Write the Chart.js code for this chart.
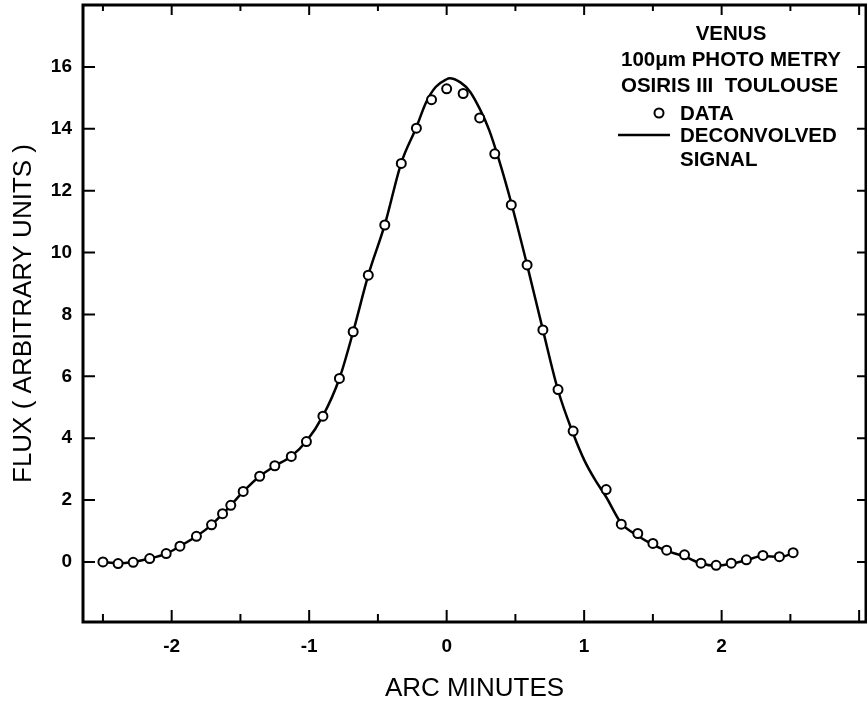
<!DOCTYPE html>
<html>
<head>
<meta charset="utf-8">
<script src="https://cdn.jsdelivr.net/npm/chart.js@4.4.1/dist/chart.umd.min.js"></script>
<style>
  html, body { margin: 0; padding: 0; background: #fff; }
  #wrap { width: 867px; height: 702px; }
</style>
</head>
<body>
<div id="wrap"><canvas id="myChart"></canvas></div>
<script>
// measured points (arc minutes, flux)
const dataX = [-2.50, -2.39, -2.28, -2.16, -2.04, -1.94, -1.82, -1.71, -1.63, -1.57, -1.48, -1.36, -1.25, -1.13, -1.02,
  -0.90, -0.78, -0.68, -0.57, -0.45, -0.33, -0.22, -0.11, 0.00, 0.12, 0.24, 0.35, 0.47, 0.585, 0.70, 0.81, 0.92,
  1.16, 1.27, 1.39, 1.50, 1.60, 1.73, 1.85, 1.96, 2.07, 2.18, 2.30, 2.42, 2.52];
const dataY = [0.00, -0.05, -0.01, 0.11, 0.27, 0.51, 0.83, 1.20, 1.56, 1.83, 2.28, 2.77, 3.11, 3.41, 3.89,
  4.71, 5.93, 7.44, 9.27, 10.89, 12.88, 14.02, 14.94, 15.29, 15.14, 14.35, 13.19, 11.54, 9.60, 7.50, 5.57, 4.23,
  2.34, 1.22, 0.92, 0.60, 0.38, 0.23, -0.04, -0.11, -0.04, 0.07, 0.21, 0.17, 0.30];

// deconvolved signal
const curveX = [-2.50, -2.39, -2.28, -2.16, -2.04, -1.94, -1.82, -1.71, -1.63, -1.57, -1.48, -1.36, -1.25, -1.13, -1.02,
  -0.90, -0.78, -0.68, -0.57, -0.45, -0.33, -0.22, -0.15, -0.08, 0.00, 0.02, 0.10, 0.17, 0.24, 0.31, 0.38, 0.47,
  0.585, 0.70, 0.81, 0.92, 1.00, 1.08, 1.16, 1.27, 1.39, 1.50, 1.60, 1.73, 1.85, 1.96, 2.07, 2.18, 2.30, 2.42, 2.52];
const curveY = [0.00, -0.04, 0.00, 0.11, 0.27, 0.51, 0.83, 1.20, 1.55, 1.83, 2.27, 2.77, 3.10, 3.42, 3.90,
  4.72, 5.93, 7.44, 9.27, 10.90, 12.90, 14.05, 14.85, 15.35, 15.60, 15.63, 15.50, 15.20, 14.65, 13.95, 13.00, 11.60,
  9.60, 7.50, 5.55, 4.15, 3.30, 2.65, 2.10, 1.25, 0.85, 0.56, 0.36, 0.18, -0.05, -0.12, -0.06, 0.06, 0.19, 0.16, 0.28];

const xLabelTicks = [-2, -1, 0, 1, 2];
const xMarkTicks = [-2.5, -2, -1.5, -1, -0.5, 0, 0.5, 1, 1.5, 2, 2.5, 3];
const yTicks = [0, 2, 4, 6, 8, 10, 12, 14, 16];

const legendLines = ['VENUS', '100\u03BCm PHOTO METRY', 'OSIRIS III  TOULOUSE'];

// frame, inward ticks and the key in the corner
const framePlugin = {
  id: 'frame',
  afterDraw(chart) {
    const ctx = chart.ctx;
    const a = chart.chartArea;
    const xs = chart.scales.x, ys = chart.scales.y;
    ctx.save();
    ctx.strokeStyle = '#000';
    ctx.lineWidth = 3;
    ctx.strokeRect(a.left, a.top, a.right - a.left, a.bottom - a.top);

    ctx.lineWidth = 2;
    ctx.beginPath();
    xMarkTicks.forEach(v => {
      const px = xs.getPixelForValue(v);
      const len = Number.isInteger(v) ? 12 : 8;
      ctx.moveTo(px, a.bottom);
      ctx.lineTo(px, a.bottom - len);
      ctx.moveTo(px, a.top);
      ctx.lineTo(px, a.top + len - 2);
    });
    yTicks.forEach(v => {
      const py = ys.getPixelForValue(v);
      ctx.moveTo(a.left, py);
      ctx.lineTo(a.left + 12, py);
      ctx.moveTo(a.right, py);
      ctx.lineTo(a.right - 9, py);
    });
    ctx.stroke();

    // key
    ctx.fillStyle = '#000';
    ctx.font = 'bold 20.5px "Liberation Sans"';
    ctx.textBaseline = 'alphabetic';
    ctx.textAlign = 'center';
    ctx.fillText(legendLines[0], 731, 40);
    ctx.textAlign = 'left';
    ctx.fillText(legendLines[1], 621, 66);
    ctx.fillText(legendLines[2], 621, 92);
    ctx.fillText('DATA', 680, 120);
    ctx.fillText('DECONVOLVED', 680, 142);
    ctx.fillText('SIGNAL', 680, 166);

    ctx.lineWidth = 2;
    ctx.beginPath();
    ctx.arc(659, 113, 4.5, 0, Math.PI * 2);
    ctx.fillStyle = '#fff';
    ctx.fill();
    ctx.stroke();
    ctx.lineWidth = 2.5;
    ctx.beginPath();
    ctx.moveTo(618, 135);
    ctx.lineTo(670, 135);
    ctx.stroke();
    ctx.restore();
  }
};

const ctx = document.getElementById('myChart');

new Chart(ctx, {
  type: 'scatter',
  data: {
    datasets: [{
      label: 'DATA',
      data: dataX.map((x, i) => ({ x: x, y: dataY[i] })),
      showLine: false,
      pointStyle: 'circle',
      pointRadius: 4.5,
      pointBorderWidth: 2,
      pointBackgroundColor: '#fff',
      pointBorderColor: '#000',
      order: 1
    }, {
      label: 'DECONVOLVED SIGNAL',
      type: 'line',
      data: curveX.map((x, i) => ({ x: x, y: curveY[i] })),
      borderColor: '#000',
      borderWidth: 2.5,
      pointRadius: 0,
      cubicInterpolationMode: 'monotone',
      fill: false,
      order: 2
    }]
  },
  options: {
    responsive: true,
    maintainAspectRatio: false,
    animation: false,
    layout: { autoPadding: false, padding: { top: 5, right: 1, left: 0, bottom: 0 } },
    plugins: {
      legend: { display: false },
      tooltip: { enabled: false }
    },
    scales: {
      x: {
        type: 'linear',
        min: -2.645,
        max: 3.05,
        grid: { display: false, drawTicks: false },
        border: { display: false },
        afterBuildTicks: s => { s.ticks = xLabelTicks.map(v => ({ value: v })); },
        afterFit: s => { s.height = 80; s.paddingLeft = 0; s.paddingRight = 0; },
        ticks: {
          padding: 13,
          color: '#000',
          font: { family: 'Liberation Sans', size: 19, weight: 'bold' },
          callback: v => String(v)
        },
        title: {
          display: true,
          text: 'ARC MINUTES',
          color: '#000',
          font: { family: 'Liberation Sans', size: 26, lineHeight: 1 },
          padding: { top: 0, bottom: 0 }
        }
      },
      y: {
        type: 'linear',
        min: -1.94,
        max: 18,
        grid: { display: false, drawTicks: false },
        border: { display: false },
        afterBuildTicks: s => { s.ticks = yTicks.map(v => ({ value: v })); },
        afterFit: s => { s.width = 83; s.paddingTop = 0; s.paddingBottom = 0; },
        ticks: {
          padding: 11,
          color: '#000',
          font: { family: 'Liberation Sans', size: 19, weight: 'bold' },
          callback: v => String(v)
        },
        title: {
          display: true,
          text: 'FLUX ( ARBITRARY UNITS )',
          color: '#000',
          font: { family: 'Liberation Sans', size: 26, lineHeight: 1.2 },
          padding: { top: 8, bottom: 0 }
        }
      }
    }
  },
  plugins: [framePlugin]
});
</script>
</body>
</html>
